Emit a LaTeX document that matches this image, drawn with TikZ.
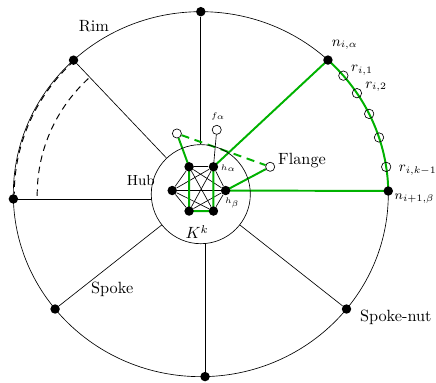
\documentclass[tikz,border=0pt]{standalone}
\usetikzlibrary{backgrounds}

\begin{document}
\begin{tikzpicture}[x=1.0125cm, y=0.9855cm,
		n/.style = {circle, fill=black, inner sep=0pt, minimum size=5.8pt},
		o/.style = {circle, draw=black, fill=white, inner sep=0pt, minimum size=5.6pt},
		oa/.style = {circle, draw=black, inner sep=0pt, minimum size=5.8pt},
		g/.style = {draw=green!70!black, line width=1.2pt},
		dsh/.style = {semithick, dash pattern=on 4pt off 3pt},
		m/.style = {inner sep=1pt, font=\small}
		]
		\useasboundingbox (-4.284,-4.138) rectangle (5.018,4.256);
		
		% hub
		\node[draw, circle, minimum size=2.14cm] (hub) at (0,0) {};
		
		% rim nodes
		\node[n]	(top)	at	(90:4)		{};
		\node[n]	(tl)	at	(132.75:4)	{};
		\node[n]	(left)	at	(181.5:4)	{};
		\node[n]	(bl)	at	(219:4)		{};
		\node[n]	(bot)	at	(271.3:4)	{};
		\node[n]	(br)	at	(321:4)		{};
		\node[n]	(nb)	at	(1:4)		{};
		\node[n]	(na)	at	(47.3:4)	{};
		
		% K^k inside the hub
		\node[n]	(h1)	at	(0.53, 0.08)	{};
		\node[n]	(h2)	at	(0.27, 0.60)	{};
		\node[n]	(h3)	at	(-0.25, 0.60)	{};
		\node[n]	(h4)	at	(-0.61, 0.08)	{};
		\node[n]	(h5)	at	(-0.25, -0.37)	{};
		\node[n]	(h6)	at	(0.27, -0.37)	{};
		
		% flange holes
		\node[o]	(fl1)	at	(-0.51, 1.33)	{};
		\node[o]	(fa)	at	(0.34, 1.41)	{};
		\node[o]	(fl2)	at	(1.48, 0.60)	{};
		
		% rim holes
		\node[oa]	(r1)	at	(40.5:4)	{};
		\node[oa]	(r2)	at	(33.6:4)	{};
		\node[oa]	(r3)	at	(26.1:4)	{};
		\node[oa]	(r4)	at	(18.1:4)	{};
		\node[oa]	(rk)	at	(8.6:4)		{};
		
		% labels
		\node		(rimlbl)	at	(-2.28, 3.69)	{Rim};
		\node[m]	(hublbl)	at	(-1.28, 0.31)	{Hub};
		\node		(kk)		at	(-0.08, -0.83)	{$K^k$};
		\node		(flangelbl)	at	(2.16, 0.73)	{Flange};
		\node		(spokelbl)	at	(-1.89, -2.08)	{Spoke};
		\node		(nutlbl)	at	(4.16, -2.71)	{Spoke-nut};
		\node[font=\tiny]	(ha)	at	(0.59, 0.57)	{$h_\alpha$};
		\node[font=\tiny]	(hb)	at	(0.67, -0.19)	{$h_\beta$};
		\node[font=\tiny]	(falbl)	at	(0.37, 1.71)	{$f_\alpha$};
		\node[m]	(nalbl)		at	(3.07, 3.27)	{$n_{i,\alpha}$};
		\node[m]	(r1lbl)		at	(3.44, 2.72)	{$r_{i,1}$};
		\node[m]	(r2lbl)		at	(3.74, 2.35)	{$r_{i,2}$};
		\node[m]	(rklbl)		at	(4.63, 0.53)	{$r_{i,k-1}$};
		\node[font=\footnotesize, anchor=east, inner sep=0pt]	(nblbl)	at	(4.99, -0.10)	{$n_{i+1,\beta}$};
		
		\begin{scope}[on background layer]
			\draw (0,0) circle (4);
			
			% spokes
			\draw (top) -- (top |- hub.north);
			\draw (tl) -- (hub);
			\draw (left) -- (left -| hub.west);
			\draw (bl) -- (hub);
			\draw (bot) -- (bot |- hub.south);
			\draw (br) -- (hub);
			
			% complete graph
			\foreach \i/\j in {1/2,1/3,1/4,1/5,1/6,2/3,2/4,2/5,2/6,3/4,3/5,3/6,4/5,4/6,5/6}
				\draw (h\i) -- (h\j);
			\draw (h2) -- (fa);
			\draw (h1) -- (fl2);
			
			% chosen path
			\draw[g] (h3.center) -- (h5.center) -- (h6.center) -- (h2.center) -- (na.center);
			\draw[g] (h1.center) -- (nb.center);
			\draw[g] (h1.center) -- (fl2);
			\draw[g] (h3.center) -- (fl1);
			\draw[g, dash pattern=on 5pt off 3.5pt] (fl1) -- (fl2);
			\draw[g] (na.center) arc[start angle=47.3, end angle=1, radius=4];
			
			% dashed arcs
			\draw[dsh] (132.75:3.98) arc[start angle=132.75, end angle=180, radius=3.98];
			\draw[dsh] (133.4:3.49) arc[start angle=133.4, end angle=181, radius=3.49];
		\end{scope}
\end{tikzpicture}
\end{document}
